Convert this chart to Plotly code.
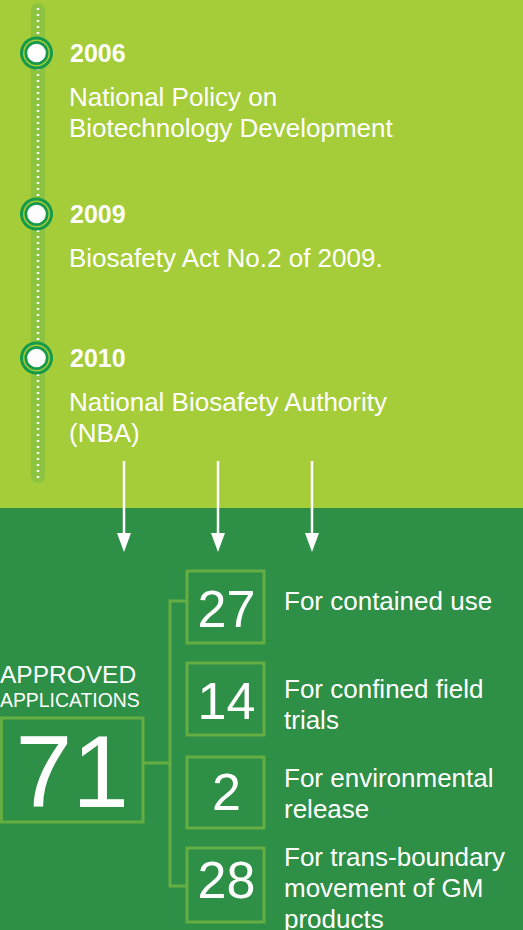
import plotly.graph_objects as go

# ---------------- data ----------------
years = ["2006", "2009", "2010"]
events = [
    "National Policy on<br>Biotechnology Development",
    "Biosafety Act No.2 of 2009.",
    "National Biosafety Authority<br>(NBA)",
]
total_label = ["APPROVED", "APPLICATIONS"]
total_value = 71
categories = [
    "For contained use",
    "For confined field<br>trials",
    "For environmental<br>release",
    "For trans-boundary<br>movement of GM<br>products",
]
counts = [27, 14, 2, 28]

# ---------------- style / layout constants ----------------
W, H = 523, 930
LIME = "#A5CD39"
BAR = "#8CC43F"
DARK = "#2E8F46"
RING = "#16994A"
BORDER = "#64AE43"
WHITE = "#FFFFFF"
FONT = "Liberation Sans, Arial, Helvetica, sans-serif"
SPLIT_Y = 508
LINE_H = 31
year_y = [53, 214, 358]
arrow_x = [124, 218, 312]
box_x0, box_x1 = 187, 264
box_y = [(571, 643), (663, 735), (757, 828), (848, 922)]
label_dy = [-6, 5.5, 0.5, 3]
num_dy = [7, 7, 4, 0]
total_box = (1.5, 718, 143, 822)
trunk_x = 170

fig = go.Figure()
shapes = []
ann = []


def add_lines(x, center_y, text, size):
    lines = text.split("<br>")
    first = center_y - (len(lines) - 1) * LINE_H / 2
    for i, ln in enumerate(lines):
        ann.append(dict(x=x, y=first + i * LINE_H, text=ln, xanchor="left", yanchor="middle",
                        showarrow=False, font=dict(family=FONT, size=size, color=WHITE)))


# backgrounds
shapes.append(dict(type="rect", x0=0, x1=W, y0=0, y1=SPLIT_Y, fillcolor=LIME, line_width=0, layer="below"))
shapes.append(dict(type="rect", x0=0, x1=W, y0=SPLIT_Y, y1=H, fillcolor=DARK, line_width=0, layer="below"))

# timeline bar with rounded ends
bx0, bx1, by0, by1 = 31, 45, 3, 483
r = (bx1 - bx0) / 2
shapes.append(dict(type="rect", x0=bx0, x1=bx1, y0=by0 + r, y1=by1 - r, fillcolor=BAR, line_width=0, layer="below"))
for cy in (by0 + r, by1 - r):
    shapes.append(dict(type="circle", x0=bx0, x1=bx1, y0=cy - r, y1=cy + r, fillcolor=BAR, line_width=0, layer="below"))
shapes.append(dict(type="line", x0=38, x1=38, y0=by0 + 5, y1=by1 - 4,
                   line=dict(color=WHITE, width=2.5, dash="2px,4px")))

# timeline nodes and text
cx = 36.5
for yy, yr, ev in zip(year_y, years, events):
    for rad, col in ((16.5, RING), (13.5, LIME), (12, RING), (9.3, WHITE)):
        shapes.append(dict(type="circle", x0=cx - rad, x1=cx + rad, y0=yy - rad, y1=yy + rad,
                           fillcolor=col, line_width=0))
    ann.append(dict(x=68, y=yy, text="<b>" + yr + "</b>", xanchor="left", yanchor="middle",
                    showarrow=False, font=dict(family=FONT, size=25, color=WHITE)))
    nlines = ev.count("<br>") + 1
    add_lines(67, yy + 44 + (nlines - 1) * LINE_H / 2, ev, 26)

# arrows
for ax in arrow_x:
    shapes.append(dict(type="line", x0=ax, x1=ax, y0=461, y1=536, line=dict(color=WHITE, width=2.5)))
    shapes.append(dict(type="path", path=f"M {ax-7},533 L {ax+7},533 L {ax},552 Z",
                       fillcolor=WHITE, line_width=0))

# total box
tx0, ty0, tx1, ty1 = total_box
shapes.append(dict(type="rect", x0=tx0, x1=tx1, y0=ty0, y1=ty1, line=dict(color=BORDER, width=3)))
ann.append(dict(x=0, xshift=-2, y=674, text=total_label[0], xanchor="left", yanchor="middle", showarrow=False,
                font=dict(family=FONT, size=24.5, color=WHITE)))
ann.append(dict(x=0, xshift=-2, y=700, text=total_label[1], xanchor="left", yanchor="middle", showarrow=False,
                font=dict(family=FONT, size=19.4, color=WHITE)))

# connectors
top_tick = 601
bot_tick = 886
shapes.append(dict(type="line", x0=tx1, x1=trunk_x, y0=763, y1=763, line=dict(color=BORDER, width=3)))
shapes.append(dict(type="line", x0=trunk_x, x1=trunk_x, y0=top_tick - 1.5, y1=bot_tick + 1.5, line=dict(color=BORDER, width=3)))
shapes.append(dict(type="line", x0=trunk_x, x1=box_x0, y0=top_tick, y1=top_tick, line=dict(color=BORDER, width=3)))
shapes.append(dict(type="line", x0=trunk_x, x1=box_x0, y0=bot_tick, y1=bot_tick, line=dict(color=BORDER, width=3)))

# category boxes
for (y0, y1), cat, ldy in zip(box_y, categories, label_dy):
    shapes.append(dict(type="rect", x0=box_x0, x1=box_x1, y0=y0, y1=y1, line=dict(color=BORDER, width=3)))
    add_lines(282, (y0 + y1) / 2 + ldy, cat, 26)

# numbers drawn as text traces
fig.add_trace(go.Scatter(
    x=[(box_x0 + box_x1) / 2 + 1] * len(counts),
    y=[(a + b) / 2 + d for (a, b), d in zip(box_y, num_dy)],
    text=[str(c) for c in counts], mode="text", textposition="middle center",
    textfont=dict(family=FONT, size=52, color=WHITE), hoverinfo="skip", showlegend=False))
fig.add_trace(go.Scatter(
    x=[(tx0 + tx1) / 2], y=[(ty0 + ty1) / 2 + 11], text=[str(total_value)], mode="text",
    textposition="middle center", textfont=dict(family=FONT, size=102, color=WHITE),
    hoverinfo="skip", showlegend=False))

fig.update_layout(
    width=W, height=H, margin=dict(l=0, r=0, t=0, b=0),
    paper_bgcolor=DARK, plot_bgcolor=DARK,
    xaxis=dict(range=[0, W], visible=False, fixedrange=True),
    yaxis=dict(range=[H, 0], visible=False, fixedrange=True),
    shapes=shapes, annotations=ann, showlegend=False,
)
fig.write_html("out.html", config=dict(displayModeBar=False),
               post_script="document.body.style.margin='0';document.body.style.padding='0';"
                           "document.documentElement.style.overflow='hidden';")
